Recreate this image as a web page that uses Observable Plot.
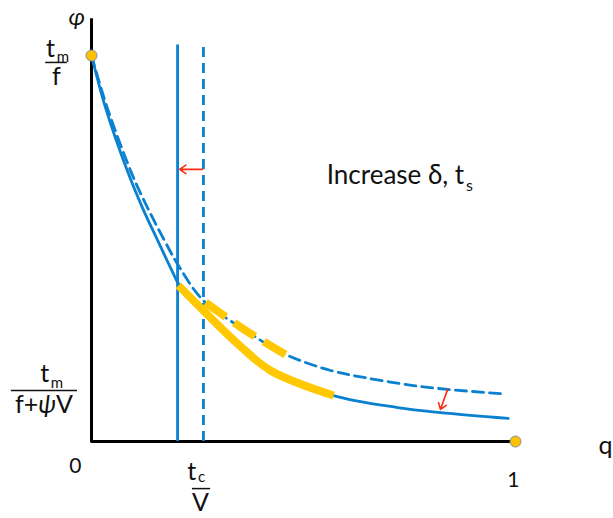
<!DOCTYPE html>
<html>
<head>
<meta charset="utf-8">
<script src="https://cdn.jsdelivr.net/npm/d3@7"></script>
<script src="https://cdn.jsdelivr.net/npm/@observablehq/plot@0.6"></script>
<style>
  html, body { margin: 0; padding: 0; background: #fff; }
  svg { display: block; }
</style>
</head>
<body>
<div id="chart"></div>
<script>
// ---- data (q = dimensionless throughput, phi = normalized value) ----
const solidQ   = [0, 0.033, 0.087, 0.120, 0.156, 0.193, 0.205, 0.264, 0.344, 0.422, 0.571, 0.722, 0.823, 0.983];
const solidPhi = [1, 0.865, 0.694, 0.606, 0.521, 0.435, 0.409, 0.339, 0.254, 0.184, 0.119, 0.088, 0.075, 0.060];

const dashedQ   = [0, 0.037, 0.095, 0.132, 0.172, 0.205, 0.264, 0.363, 0.453, 0.564, 0.642, 0.759, 0.840, 0.965];
const dashedPhi = [1, 0.865, 0.694, 0.606, 0.521, 0.456, 0.365, 0.288, 0.228, 0.184, 0.166, 0.145, 0.135, 0.124];

const hiSolidQ   = [0.205, 0.264, 0.344, 0.422, 0.571];
const hiSolidPhi = [0.404, 0.339, 0.254, 0.184, 0.119];

const hiDashedQ   = [0.269, 0.363, 0.458];
const hiDashedPhi = [0.360, 0.288, 0.225];

const solidVerticalQ = 0.203;   // shifted t_c/V
const dashedVerticalQ = 0.264;  // t_c/V
const verticalTop = 1.027;

const endpointsQ   = [0, 1];
const endpointsPhi = [1, 0];

const annotation = "Increase δ, t";
const annotationSub = "s";

const toPts = (qs, ps) => qs.map((q, i) => ({q, phi: ps[i]}));
const solid = toPts(solidQ, solidPhi);
const dashed = toPts(dashedQ, dashedPhi);
const hiSolid = toPts(hiSolidQ, hiSolidPhi);
const hiDashed = toPts(hiDashedQ, hiDashedPhi);
const endpoints = toPts(endpointsQ, endpointsPhi);

const BLUE = "#0a80d0";
const YELLOW = "#ffc800";
const RED = "#ff2a10";
const INK = "#111";
const FONT = "Lato, 'Open Sans', 'DejaVu Sans', sans-serif";

// label layout (data coordinates)
const bigLabels = [
  {q: -0.086, phi: 1.016, t: "t", a: "end"},
  {q: -0.083, phi: 0.945, t: "f", a: "middle"},
  {q: -0.100, phi: 0.174, t: "t", a: "end"},
  {q: -0.112, phi: 0.094, t: "f+ψV", a: "middle"},
  {q: 0.247, phi: -0.078, t: "t", a: "end"},
  {q: 0.257, phi: -0.160, t: "V", a: "middle"},
  {q: 1.212, phi: -0.012, t: "q", a: "middle"}
];
const subLabels = [
  {q: -0.082, phi: 0.996, t: "m"},
  {q: -0.096, phi: 0.152, t: "m"},
  {q: 0.251, phi: -0.092, t: "c"}
];
const tickNums = [
  {q: -0.038, phi: -0.065, t: "0"},
  {q: 0.995, phi: -0.101, t: "1"}
];
const fracBars = [
  {x1: -0.108, x2: -0.057, y: 0.982},
  {x1: -0.189, x2: -0.033, y: 0.132},
  {x1: 0.238, x2: 0.281, y: -0.122}
];
const arrows = [
  {x1: 0.262, y1: 0.705, x2: 0.208, y2: 0.705},
  {x1: 0.840, y1: 0.135, x2: 0.823, y2: 0.083}
];

const chart = Plot.plot({
  width: 613,
  height: 518,
  marginLeft: 91,
  marginRight: 98,
  marginTop: 55,
  marginBottom: 77,
  x: {domain: [0, 1], axis: null},
  y: {domain: [0, 1], axis: null},
  style: {fontFamily: FONT, background: "#fff", overflow: "visible"},
  marks: [
    // axes
    Plot.ruleX([0], {y1: 0, y2: 1.091, stroke: "#000", strokeWidth: 3, strokeLinecap: "square"}),
    Plot.ruleY([0], {x1: 0, x2: 1, stroke: "#000", strokeWidth: 3}),
    // vertical lines
    Plot.ruleX([solidVerticalQ], {y1: 0, y2: verticalTop, stroke: BLUE, strokeWidth: 2.8}),
    Plot.ruleX([dashedVerticalQ], {y1: 0, y2: verticalTop, stroke: BLUE, strokeWidth: 2.8, strokeDasharray: "10,6"}),
    // curves
    Plot.line(dashed, {x: "q", y: "phi", stroke: BLUE, strokeWidth: 2.8, curve: "catmull-rom", strokeDasharray: "11,6"}),
    Plot.line(solid, {x: "q", y: "phi", stroke: BLUE, strokeWidth: 2.8, curve: "catmull-rom"}),
    // highlighted segments (on top)
    Plot.line(hiSolid, {x: "q", y: "phi", stroke: YELLOW, strokeWidth: 8, curve: "catmull-rom", strokeLinecap: "butt"}),
    Plot.line(hiDashed, {x: "q", y: "phi", stroke: YELLOW, strokeWidth: 8, curve: "catmull-rom", strokeDasharray: "25,10", strokeLinecap: "butt"}),
    // arrows
    Plot.arrow(arrows, {x1: "x1", y1: "y1", x2: "x2", y2: "y2", stroke: RED, strokeWidth: 1.6, headLength: 7, headAngle: 70}),
    // endpoints
    Plot.dot(endpoints, {x: "q", y: "phi", r: 5.5, fill: "#ffc000", stroke: "#7f8fa6", strokeWidth: 1}),
    // fraction bars
    Plot.ruleY(fracBars, {y: "y", x1: "x1", x2: "x2", stroke: INK, strokeWidth: 1.5}),
    // labels
    Plot.text(bigLabels, {x: "q", y: "phi", text: "t", textAnchor: "end", filter: d => d.a === "end", fontSize: 25, fill: INK, lineAnchor: "middle"}),
    Plot.text(bigLabels, {x: "q", y: "phi", text: "t", textAnchor: "middle", filter: d => d.a === "middle", fontSize: 25, fill: INK, lineAnchor: "middle"}),
    Plot.text(subLabels, {x: "q", y: "phi", text: "t", textAnchor: "start", fontSize: 15, fill: INK, lineAnchor: "middle"}),
    Plot.text(tickNums, {x: "q", y: "phi", text: "t", fontSize: 21, fill: INK, lineAnchor: "middle"}),
    Plot.text(["φ"], {x: -0.035, y: 1.098, text: d => d, fontSize: 24, fontStyle: "italic", fill: INK, lineAnchor: "middle"}),
    Plot.text([annotation], {x: 0.879, y: 0.689, text: d => d, textAnchor: "end", fontSize: 26, fill: INK, lineAnchor: "middle"}),
    Plot.text([annotationSub], {x: 0.883, y: 0.661, text: d => d, textAnchor: "start", fontSize: 16, fill: INK, lineAnchor: "middle"})
  ]
});
document.getElementById("chart").appendChild(chart);

// italicize the ψ inside "f+ψV" (keeps it as real text)
d3.select(chart).selectAll("text").each(function () {
  const el = d3.select(this);
  if (el.text() === "f+ψV") {
    el.text(null);
    el.append("tspan").text("f+");
    el.append("tspan").attr("font-style", "italic").text("ψ");
    el.append("tspan").text("V");
  }
});
</script>
</body>
</html>
